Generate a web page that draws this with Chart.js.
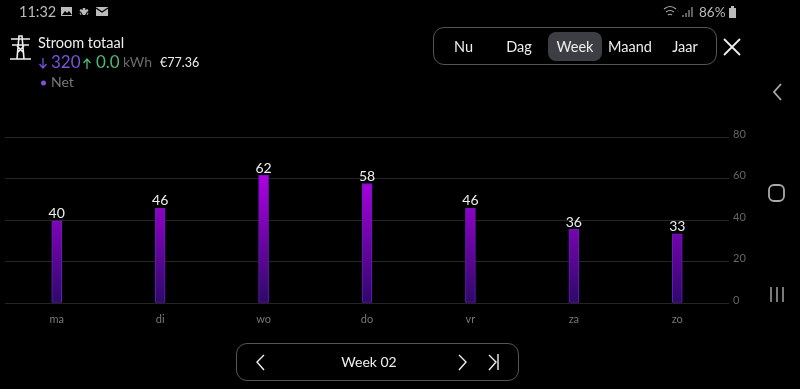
<!DOCTYPE html>
<html>
<head>
<meta charset="utf-8">
<script src="https://cdn.jsdelivr.net/npm/chart.js@4"></script>
<style>
  html, body { margin: 0; padding: 0; background: #000; overflow: hidden; }
  #wrap { position: relative; width: 800px; height: 389px; font-family: Lato, sans-serif; color: #eee; }
  #chart { position: absolute; left: 0; top: 0; }
  .t { position: absolute; white-space: nowrap; line-height: 1; }
  .c { transform: translateX(-50%); }
  .box { position: absolute; border: 1px solid #555; border-radius: 11px; box-sizing: border-box; }
  svg { position: absolute; left: 0; top: 0; }
</style>
</head>
<body>
<div id="wrap">
  <canvas id="chart" width="800" height="389"></canvas>

  <!-- status bar -->
  <div class="t" style="left:19px;top:5px;font-size:14.5px;color:#bbb">11:32</div>
  <div class="t" style="left:699px;top:6px;font-size:13.500px;color:#bbb">86%</div>

  <!-- header -->
  <div class="t" style="left:38px;top:36px;font-size:14.500px;color:#eee">Stroom totaal</div>
  <div class="t" style="left:51px;top:53px;font-size:17px;color:#7a52dc">320</div>
  <div class="t" style="left:96px;top:53px;font-size:17px;color:#4fb878">0.0</div>
  <div class="t" style="left:123px;top:55px;font-size:14px;color:#6a6a6a">kWh</div>
  <div class="t" style="left:160px;top:57px;font-size:12.5px;color:#eee">€77.36</div>
  <div class="t" style="left:51px;top:75px;font-size:14px;color:#777">Net</div>

  <!-- range picker -->
  <div class="box" style="left:433px;top:27px;width:284px;height:38px"></div>
  <div style="position:absolute;left:548px;top:32px;width:54px;height:29px;background:#3c3e44;border-radius:8px"></div>
  <div class="t c" style="left:463.5px;top:40px;font-size:14.5px">Nu</div>
  <div class="t c" style="left:519px;top:40px;font-size:14.5px">Dag</div>
  <div class="t c" style="left:575px;top:40px;font-size:14.5px">Week</div>
  <div class="t c" style="left:630px;top:40px;font-size:14.5px">Maand</div>
  <div class="t c" style="left:685px;top:40px;font-size:14.5px">Jaar</div>

  <!-- week picker -->
  <div class="box" style="left:236px;top:343px;width:283px;height:38px"></div>
  <div class="t c" style="left:369px;top:355px;font-size:14px">Week 02</div>

  <svg width="800" height="389" fill="none">
    <!-- status icons -->
    <rect x="61" y="7" width="11" height="9" fill="#bbb"/>
    <path d="M62 15l3-4 2 2 2-2 3 4z" fill="#000"/>
    <path d="M84 8v8M80 10l8 4M88 10l-8 4" stroke="#bbb" stroke-width="2.500" stroke-dasharray="3 1"/>
    <rect x="96" y="7" width="12" height="9" fill="#bbb"/>
    <path d="M96 8l6 4 6-4" stroke="#000" stroke-width="1.2"/>
    <path d="M664 9q6-5 12 0M666 12q4-3 8 0M668 15q2-1.500 4 0" stroke="#aaa" stroke-width="1.200"/>
    <path d="M683 17v-2M686 17v-4M689 17v-7M692 17v-10" stroke="#888" stroke-width="1.400"/>
    <rect x="729" y="8" width="7" height="10" fill="#bbb"/>
    <rect x="731" y="6" width="3" height="2" fill="#bbb"/>
    <!-- pylon icon -->
    <path d="M10 59h21M17 59l2-23h3l2 23M11 39h19M12 45h17M18 52l6-6M23 52l-6-6" stroke="#eee" stroke-width="1.600"/>
    <!-- arrows and dot -->
    <path d="M43 58v10M39.500 64l3.500 4 3.500-4" stroke="#7a52dc" stroke-width="1.300"/>
    <path d="M87 69v-10M83.500 63l3.500-4 3.500 4" stroke="#4fb878" stroke-width="1.300"/>
    <circle cx="43.500" cy="83" r="2.500" fill="#7a52dc"/>
    <!-- close -->
    <path d="M724 39l16 16M740 39l-16 16" stroke="#eee" stroke-width="1.800"/>
    <!-- week picker arrows -->
    <path d="M264 355l-7 7 7 8M459 355l7 7-7 8M489 355l7 7-7 8M498 354v16" stroke="#eee" stroke-width="1.400"/>
    <!-- android nav -->
    <path d="M781 84l-7 8 7 8" stroke="#aaa" stroke-width="1.800"/>
    <rect x="769" y="185" width="15" height="16" rx="5" stroke="#aaa" stroke-width="1.800"/>
    <path d="M771 287v15M777 287v15M783 287v15" stroke="#999" stroke-width="1.600"/>
  </svg>
</div>

<script>
// Chart data.
const days = ['ma', 'di', 'wo', 'do', 'vr', 'za', 'zo'];
const netKwh = [39.6, 45.8, 61.6, 57.6, 45.8, 35.5, 33.3];
const yTicks = [0, 20, 40, 60, 80];

// Value above each bar.
const barLabels = {
  id: 'barLabels',
  afterDatasetsDraw: (chart) => {
    const {ctx} = chart;
    ctx.save();
    ctx.fillStyle = '#eeeeee';
    ctx.font = '14px Lato, sans-serif';
    ctx.textAlign = 'center';
    ctx.textBaseline = 'bottom';
    chart.getDatasetMeta(0).data.forEach((bar, i) => {
      ctx.fillText(Math.round(netKwh[i]), bar.x, bar.y);
    });
    ctx.restore();
  },
};

new Chart(document.getElementById('chart').getContext('2d'), {
  type: 'bar',
  data: {
    labels: days,
    datasets: [{
      label: 'Net',
      data: netKwh,
      barThickness: 10,
      borderWidth: 1,
      borderSkipped: false,
      borderColor: '#6a18c0',
      // Gradient runs over the whole plot, so short bars get a darker top.
      backgroundColor: (context) => {
        const {ctx, chartArea} = context.chart;
        if (!chartArea) return '#7a00c0';
        const g = ctx.createLinearGradient(0, chartArea.bottom, 0, chartArea.top);
        g.addColorStop(0, '#2c0a68');
        g.addColorStop(0.8, '#b400e8');
        g.addColorStop(1, '#c000f0');
        return g;
      },
    }],
  },
  options: {
    responsive: false,
    animation: false,
    layout: {padding: {left: 5, top: 137, right: 0, bottom: 59}},
    plugins: {legend: {display: false}, tooltip: {enabled: false}},
    scales: {
      x: {
        grid: {display: false},
        border: {display: false},
        ticks: {color: '#777', font: {family: 'Lato', size: 11}, padding: 2, maxRotation: 0},
        afterFit: (axis) => { axis.height = 27; },
      },
      y: {
        position: 'right',
        min: 0,
        max: 80,
        afterBuildTicks: (axis) => { axis.ticks = yTicks.map((value) => ({value})); },
        grid: {color: '#252525', drawTicks: false, lineWidth: 1},
        border: {display: false},
        ticks: {color: '#666', font: {family: 'Lato', size: 11}, padding: 4, labelOffset: -3},
        afterFit: (axis) => { axis.width = 71; },
      },
    },
  },
  plugins: [barLabels],
});
</script>
</body>
</html>
